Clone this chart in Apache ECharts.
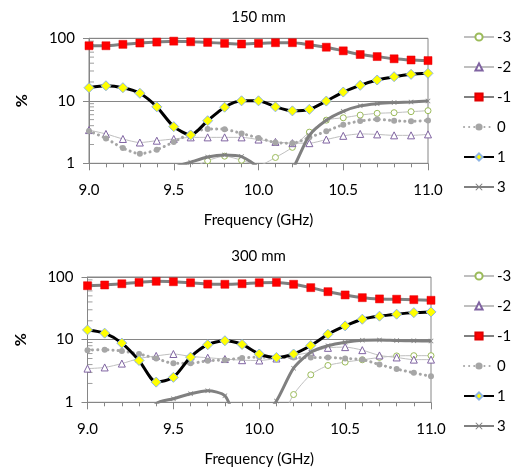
<!DOCTYPE html>
<html><head><meta charset="utf-8">
<script src="https://cdn.jsdelivr.net/npm/echarts@6/dist/echarts.min.js"></script>
<style>html,body{margin:0;padding:0;background:#fff}#c{width:517px;height:470px}</style>
</head><body><div id="c"></div>
<script>
// ---- data ----
const freq = [9.0, 9.1, 9.2, 9.3, 9.4, 9.5, 9.6, 9.7, 9.8, 9.9, 10.0, 10.1, 10.2, 10.3, 10.4, 10.5, 10.6, 10.7, 10.8, 10.9, 11.0];
const seriesNames = ['-3', '-2', '-1', '0', '1', '3'];
const panelTitles = ['150 mm', '300 mm'];
const yTickValues = [1, 10, 100];
const yMinorTickValues = [2, 3, 4, 5, 6, 7, 8, 9, 20, 30, 40, 50, 60, 70, 80, 90];

// 150 mm panel
const m3_150 = [0.4, 0.4, 0.4, 0.4, 0.4, 0.5, 0.8, 1.1, 1.3, 1.12, 0.93, 1.24, 1.8, 3.15, 4.9, 5.35, 5.9, 6.3, 6.45, 6.7, 6.95];
const m2_150 = [3.4, 2.95, 2.45, 2.15, 2.3, 2.45, 2.6, 2.6, 2.6, 2.6, 2.4, 2.2, 2.1, 2.1, 2.4, 2.75, 2.95, 2.9, 2.8, 2.8, 2.9];
const m1_150 = [76, 76, 80, 84, 87, 90, 88, 86, 83, 81, 83, 85, 85, 79, 72, 63, 55, 51, 47, 45, 44];
const z0_150 = [3.3, 2.5, 1.75, 1.42, 1.65, 2.2, 3.0, 3.55, 3.5, 3.0, 2.55, 2.15, 2.1, 2.6, 3.25, 4.15, 4.75, 5.05, 4.8, 4.7, 4.85];
const p1_150 = [16.2, 17.4, 16.2, 13.2, 8.0, 3.86, 2.84, 4.8, 7.9, 10.0, 10.0, 8.0, 6.9, 7.3, 9.9, 13.8, 17.7, 21.5, 24.3, 26.5, 27.5];
const p3_150 = [0.4, 0.4, 0.4, 0.4, 0.5, 0.85, 1.04, 1.26, 1.36, 1.28, 0.85, 0.4, 0.8, 2.8, 4.9, 6.8, 8.3, 9.0, 9.4, 9.6, 9.9];

// 300 mm panel
const m3_300 = [0.3, 0.3, 0.3, 0.3, 0.3, 0.3, 0.3, 0.3, 0.3, 0.3, 0.3, 0.4, 1.33, 2.75, 3.87, 4.38, 4.77, 5.2, 5.5, 5.55, 5.55];
const m2_300 = [3.45, 3.6, 4.15, 5.0, 5.5, 5.9, 5.4, 5.15, 4.9, 4.7, 4.65, 5.0, 5.6, 6.3, 7.4, 7.6, 6.8, 5.6, 5.2, 4.8, 4.8];
const m1_300 = [72.6, 74.6, 78, 82, 85.4, 84, 81, 77, 76.5, 78, 81, 82, 76.5, 67.6, 58.3, 51.7, 46.8, 44.7, 44.2, 43.5, 42.5];
const z0_300 = [6.8, 6.9, 6.6, 5.9, 5.0, 4.2, 4.2, 4.6, 4.75, 5.1, 5.25, 5.2, 5.2, 5.2, 5.2, 5.0, 4.8, 4.0, 3.4, 2.95, 2.6];
const p1_300 = [14.3, 12.7, 8.8, 4.65, 2.1, 2.5, 5.26, 8.3, 9.6, 8.4, 5.9, 5.2, 5.9, 8.05, 12.2, 16.6, 21.2, 23.7, 25.5, 27, 27.7];
const p3_300 = [0.3, 0.3, 0.3, 0.3, 0.95, 1.14, 1.37, 1.53, 1.27, 0.4, 0.5, 1.05, 3.5, 6.3, 8.0, 9.1, 9.8, 9.9, 9.7, 9.6, 9.5];

const panels = [
  [m3_150, m2_150, m1_150, z0_150, p1_150, p3_150],
  [m3_300, m2_300, m1_300, z0_300, p1_300, p3_300]
];

// ---- styles ----
const FONT = 'Lato';
const AX = '#868686';
const xSym = 'path://M0,1L1,0L5,4L9,0L10,1L6,5L10,9L9,10L5,6L1,10L0,9L4,5Z';
const styles = {
  '-3': {symbol: 'circle', symbolSize: 6, item: {color: '#ffffff', borderColor: '#9bbb59', borderWidth: 1}, line: {color: '#bfbfbf', width: 1}},
  '-2': {symbol: 'triangle', symbolSize: 7, item: {color: '#ffffff', borderColor: '#8064a2', borderWidth: 1}, line: {color: '#bfbfbf', width: 1}},
  '-1': {symbol: 'rect', symbolSize: 8, item: {color: '#ff0000', borderColor: '#e00000', borderWidth: 0.5}, line: {color: '#808080', width: 3}},
  '0': {symbol: 'circle', symbolSize: 6, item: {color: '#a6a6a6'}, line: {color: '#a6a6a6', width: 3, type: [0.1, 5], cap: 'round'}},
  '1': {symbol: 'diamond', symbolSize: 10, item: {color: '#ffff00', borderColor: '#8eb4e3', borderWidth: 1}, line: {color: '#000000', width: 3}},
  '3': {symbol: xSym, symbolSize: 5, item: {color: '#808080'}, line: {color: '#808080', width: 3}}
};

const grids = [
  {left: 89, right: 89, top: 38.3, height: 125},
  {left: 87.5, right: 86, top: 277, height: 125.3}
];

const series = [];
panels.forEach((vals, g) => {
  seriesNames.forEach((name, k) => {
    const s = styles[name];
    series.push({
      name: name, type: 'line', xAxisIndex: g, yAxisIndex: g,
      data: freq.map((f, i) => [f, vals[k][i]]),
      symbol: s.symbol, symbolSize: s.symbolSize, showAllSymbol: true,
      itemStyle: s.item, lineStyle: s.line, smooth: 0.25, clip: true,
      silent: true, animation: false, z: 3 + k
    });
  });
  // minor ticks of the log axis (2..9 per decade), placed via axis scales
  series.push({
    type: 'scatter', xAxisIndex: g, yAxisIndex: g, silent: true, animation: false,
    data: yMinorTickValues.map(v => [freq[0], v]),
    symbol: 'rect', symbolSize: [5, 1], symbolOffset: [2.5, 0],
    itemStyle: {color: AX}, z: 2
  });
});

const xAxes = grids.map((gr, g) => ({
  type: 'value', gridIndex: g, min: 9, max: 11, interval: 0.5,
  name: 'Frequency (GHz)', nameLocation: 'middle', nameGap: 49,
  nameTextStyle: {fontFamily: FONT, fontSize: 15, color: '#000'},
  axisLine: {lineStyle: {color: AX, width: 1}},
  axisTick: {show: true, length: 7, lineStyle: {color: AX}},
  minorTick: {show: true, splitNumber: 5, length: 4, lineStyle: {color: AX}},
  splitLine: {show: false},
  axisLabel: {fontFamily: FONT, fontSize: 15, color: '#000', margin: 19, formatter: v => v.toFixed(1)}
}));

const yAxes = grids.map((gr, g) => ({
  type: 'log', logBase: 10, gridIndex: g, min: yTickValues[0], max: yTickValues[yTickValues.length - 1],
  name: '%', nameLocation: 'middle', nameRotate: 90, nameGap: 59,
  nameTextStyle: {fontFamily: FONT, fontSize: 16, fontWeight: 'bold', color: '#000'},
  axisLine: {show: true, lineStyle: {color: AX, width: 1}},
  axisTick: {show: true, length: 6, lineStyle: {color: AX}},
  minorTick: {show: false},
  splitLine: {show: true, lineStyle: {color: AX, width: 1}},
  axisLabel: {fontFamily: FONT, fontSize: 15, color: '#000', margin: 14}
}));

const legends = grids.map((gr, g) => ({
  data: seriesNames, orient: 'vertical', left: 458, top: g === 0 ? 24.5 : 263.5,
  itemWidth: 30, itemHeight: 9, itemGap: 15, selectedMode: false,
  textStyle: {fontFamily: FONT, fontSize: 15, color: '#000', padding: [0, 0, 0, -2]}
}));

const titles = panelTitles.map((t, g) => ({
  text: t, left: 'center', top: g === 0 ? 5 : 244,
  textStyle: {fontFamily: FONT, fontSize: 15, fontWeight: 'normal', color: '#000'}
}));

const chart = echarts.init(document.getElementById('c'), null, {renderer: 'canvas'});
chart.setOption({
  backgroundColor: '#fff',
  animation: false,
  title: titles,
  legend: legends,
  grid: grids.map(gr => Object.assign({show: true, borderColor: AX, borderWidth: 1, backgroundColor: 'transparent'}, gr)),
  xAxis: xAxes,
  yAxis: yAxes,
  series: series
});
</script>
</body></html>
